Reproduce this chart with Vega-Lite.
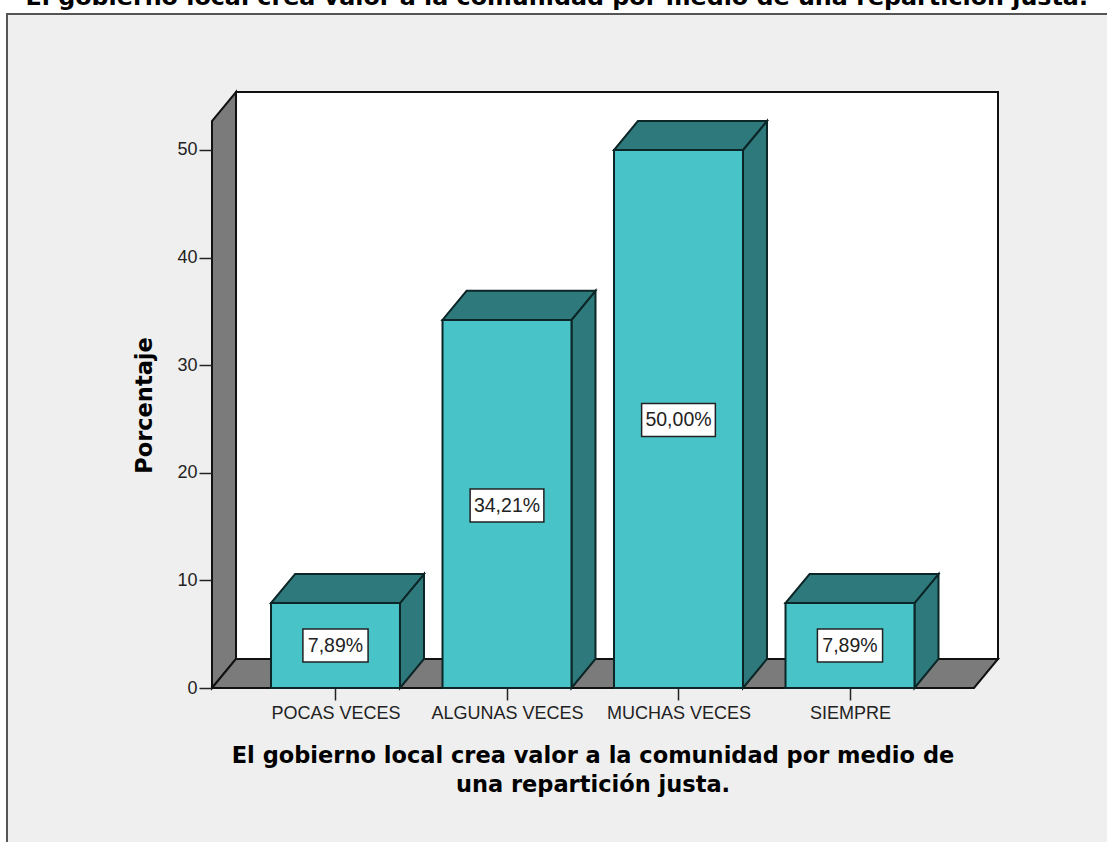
{"$schema":"https://vega.github.io/schema/vega-lite/v6.json","width":786,"height":596,"autosize":"none","padding":{"left":212,"top":92,"right":109,"bottom":154},"background":"#ffffff","config":{"view":{"stroke":null},"font":"Liberation Sans"},
"datasets":{
"frame":[{"x":-0.9155,"x2":5.6,"y":62.64,"y2":-16}],
"back":[{"x":0.4199,"x2":4.863,"y":2.7,"y2":55.39}],
"wall":[{"x":0.2799,"y":0,"y2":52.69},{"x":0.4199,"y":2.7,"y2":55.39}],
"floor":[{"y":0,"x":0.2799,"x2":4.723},{"y":2.7,"x":0.4199,"x2":4.863}],
"front":[{"x":0.624,"x2":1.376,"y":0,"y2":7.89},{"x":1.624,"x2":2.376,"y":0,"y2":34.21},{"x":2.624,"x2":3.376,"y":0,"y2":50},{"x":3.624,"x2":4.376,"y":0,"y2":7.89}],
"side":[{"b":1,"x":1.376,"y":0,"y2":7.89},{"b":1,"x":1.516,"y":2.7,"y2":10.59},{"b":2,"x":2.376,"y":0,"y2":34.21},{"b":2,"x":2.516,"y":2.7,"y2":36.91},{"b":3,"x":3.376,"y":0,"y2":50},{"b":3,"x":3.516,"y":2.7,"y2":52.7},{"b":4,"x":4.376,"y":0,"y2":7.89},{"b":4,"x":4.516,"y":2.7,"y2":10.59}],
"top":[{"b":1,"y":7.89,"x":0.624,"x2":1.376},{"b":1,"y":10.59,"x":0.764,"x2":1.516},{"b":2,"y":34.21,"x":1.624,"x2":2.376},{"b":2,"y":36.91,"x":1.764,"x2":2.516},{"b":3,"y":50,"x":2.624,"x2":3.376},{"b":3,"y":52.7,"x":2.764,"x2":3.516},{"b":4,"y":7.89,"x":3.624,"x2":4.376},{"b":4,"y":10.59,"x":3.764,"x2":4.516}],
"boxes":[{"x":0.81,"x2":1.19,"y":2.415,"y2":5.475},{"x":1.785,"x2":2.215,"y":15.43,"y2":18.49},{"x":2.785,"x2":3.215,"y":23.37,"y2":26.43},{"x":3.81,"x2":4.19,"y":2.415,"y2":5.475}],
"labels":[{"x":1,"y":3.945,"t":"7,89%"},{"x":2,"y":16.96,"t":"34,21%"},{"x":3,"y":24.9,"t":"50,00%"},{"x":4,"y":3.945,"t":"7,89%"}],
"title":[{"x":2.29,"y":63.48,"t":"El gobierno local crea valor a la comunidad por medio de una repartición justa."}]
},
"encoding":{
"x":{"field":"x","type":"quantitative","scale":{"domain":[0.2799,4.863],"nice":false,"zero":false},"axis":{"values":[1,2,3,4],"labelExpr":"datum.value==1?'POCAS VECES':datum.value==2?'ALGUNAS VECES':datum.value==3?'MUCHAS VECES':'SIEMPRE'","grid":false,"domain":false,"tickSize":12,"tickColor":"#222222","tickWidth":1.5,"labelFontSize":18,"labelColor":"#222222","labelPadding":4,"labelFlush":false,"labelOverlap":false,"zindex":1,"title":["El gobierno local crea valor a la comunidad por medio de","una repartición justa."],"titleFont":"DejaVu Sans","titleFontSize":22.5,"titleFontWeight":"bold","titleColor":"#000000","titleX":380.5,"titleY":56,"titleLineHeight":29,"titleBaseline":"top"}},
"y":{"field":"y","type":"quantitative","scale":{"domain":[0,55.39],"nice":false,"zero":false},"axis":{"values":[0,10,20,30,40,50],"grid":false,"domain":false,"tickSize":13,"tickColor":"#222222","tickWidth":1.5,"labelFontSize":18,"labelColor":"#222222","labelPadding":2,"zindex":1,"title":"Porcentaje","titleFont":"DejaVu Sans","titleFontSize":22.5,"titleFontWeight":"bold","titleColor":"#000000","titleX":-56,"titleY":313}}
},
"layer":[
{"data":{"name":"frame"},"mark":{"type":"rect","fill":"#efefef","stroke":"#555555","strokeWidth":2},"encoding":{"x2":{"field":"x2"},"y2":{"field":"y2"}}},
{"data":{"name":"back"},"mark":{"type":"rect","fill":"#ffffff","stroke":"#111111","strokeWidth":2},"encoding":{"x2":{"field":"x2"},"y2":{"field":"y2"}}},
{"data":{"name":"wall"},"mark":{"type":"area","orient":"vertical","fill":"#7b7b7b","fillOpacity":1,"stroke":"#111111","strokeWidth":2},"encoding":{"y2":{"field":"y2"}}},
{"data":{"name":"floor"},"mark":{"type":"area","orient":"horizontal","fill":"#7b7b7b","fillOpacity":1,"stroke":"#111111","strokeWidth":2},"encoding":{"x2":{"field":"x2"}}},
{"data":{"name":"side"},"mark":{"type":"area","orient":"vertical","fill":"#2e797b","fillOpacity":1,"stroke":"#0c2526","strokeWidth":2},"encoding":{"y2":{"field":"y2"},"detail":{"field":"b"}}},
{"data":{"name":"top"},"mark":{"type":"area","orient":"horizontal","fill":"#2e797b","fillOpacity":1,"stroke":"#0c2526","strokeWidth":2},"encoding":{"x2":{"field":"x2"},"detail":{"field":"b"}}},
{"data":{"name":"front"},"mark":{"type":"rect","fill":"#48c4c8","stroke":"#0c2526","strokeWidth":2},"encoding":{"x2":{"field":"x2"},"y2":{"field":"y2"}}},
{"data":{"name":"boxes"},"mark":{"type":"rect","fill":"#ffffff","stroke":"#222222","strokeWidth":1.5},"encoding":{"x2":{"field":"x2"},"y2":{"field":"y2"}}},
{"data":{"name":"labels"},"mark":{"type":"text","fontSize":19.5,"color":"#222222","align":"center","baseline":"middle"},"encoding":{"text":{"field":"t"}}},
{"data":{"name":"title"},"mark":{"type":"text","font":"DejaVu Sans","fontSize":23.8,"fontWeight":"bold","color":"#000000","align":"center","baseline":"alphabetic"},"encoding":{"text":{"field":"t"}}}
]}
